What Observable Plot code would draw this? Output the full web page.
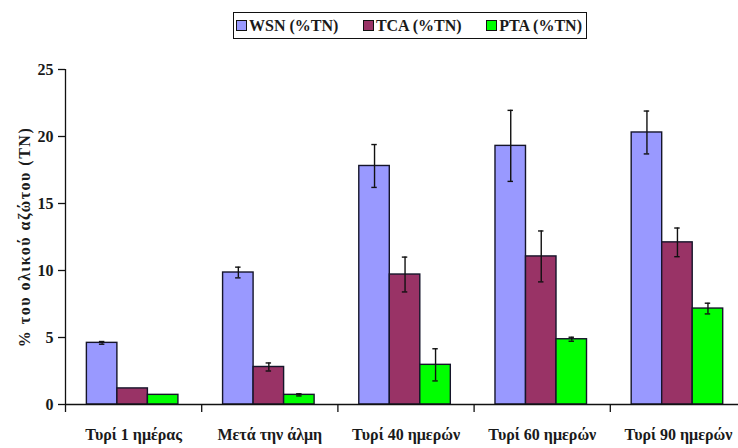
<!DOCTYPE html>
<html>
<head>
<meta charset="utf-8">
<script src="https://cdn.jsdelivr.net/npm/d3@7"></script>
<script src="https://cdn.jsdelivr.net/npm/@observablehq/plot@0.6"></script>
<style>
  body { margin: 0; background: #fff; font-family: "Liberation Serif", "Times New Roman", serif; }
  #legend-row { position: relative; width: 738px; height: 48px; }
  .legend {
    position: absolute; left: 233px; top: 12px; width: 354px; height: 27px;
    box-sizing: border-box; border: 1.5px solid #111;
    display: flex; align-items: center; justify-content: space-between;
    padding: 0 4px 0 2px; font-weight: bold; font-size: 16px; color: #1a1a1a;
  }
  .item { display: flex; align-items: center; white-space: nowrap; }
  .sw { display: inline-block; width: 9px; height: 9px; border: 1.3px solid #111; margin-right: 2px; }
</style>
</head>
<body>
<div id="legend-row"><div class="legend" id="legend"></div></div>
<div id="chart"></div>
<script>
// Sampling stages (x categories)
const categories = ["Τυρί 1 ημέρας", "Μετά την άλμη", "Τυρί 40 ημερών", "Τυρί 60 ημερών", "Τυρί 90 ημερών"];
// Nitrogen fractions shown per stage
const series = ["WSN (%TN)", "TCA (%TN)", "PTA (%TN)"];
const colors = ["#9999ff", "#993366", "#00ff00"];

// Mean values (% of total nitrogen)
const wsn = [4.6, 9.85, 17.8, 19.3, 20.3];
const tca = [1.2, 2.8, 9.7, 11.05, 12.1];
const pta = [0.72, 0.72, 2.96, 4.87, 7.16];

// Standard deviations
const wsnErr = [0.1, 0.4, 1.6, 2.65, 1.6];
const tcaErr = [0.0, 0.3, 1.3, 1.9, 1.07];
const ptaErr = [0.0, 0.08, 1.2, 0.15, 0.4];

const yTicks = [0, 5, 10, 15, 20, 25];
const yLabel = "% του ολικού αζώτου (TN)";

const values = [wsn, tca, pta];
const errors = [wsnErr, tcaErr, ptaErr];

// Layout of a bar cluster inside one category slot (fractions of a slot)
const groupStart = 0.157;
const barW = 0.224;
const capHalf = 0.02;

const rows = categories.flatMap((cat, i) =>
  series.map((s, k) => ({
    cat, i, k, series: s,
    value: values[k][i],
    err: errors[k][i],
    x1: i + groupStart + k * barW,
    x2: i + groupStart + (k + 1) * barW
  }))
);
const mid = d => (d.x1 + d.x2) / 2;
const withErr = rows.filter(d => d.err > 0);

// Legend
const legend = d3.select("#legend");
series.forEach((s, k) => {
  const it = legend.append("span").attr("class", "item");
  it.append("span").attr("class", "sw").style("background", colors[k]);
  it.append("span").text(s);
});

const chart = Plot.plot({
  width: 738,
  height: 400,
  marginLeft: 65,
  marginRight: -8,
  marginTop: 21,
  marginBottom: 44,
  style: "font-family: 'Liberation Serif', 'Times New Roman', serif; font-size: 16px; font-weight: bold; color: #1a1a1a; background: #fff;",
  x: { domain: [0, categories.length], axis: null },
  y: { domain: [0, 25], axis: null },
  color: { domain: series, range: colors },
  marks: [
    Plot.rectY(rows, { x1: "x1", x2: "x2", y: "value", fill: "series", stroke: "#15152a", strokeWidth: 1.4 }),
    Plot.ruleX(withErr, { x: mid, y1: d => d.value - d.err, y2: d => d.value + d.err, stroke: "#111", strokeWidth: 1.4 }),
    Plot.ruleY(withErr, { y: d => d.value - d.err, x1: d => mid(d) - capHalf, x2: d => mid(d) + capHalf, stroke: "#111", strokeWidth: 1.4 }),
    Plot.ruleY(withErr, { y: d => d.value + d.err, x1: d => mid(d) - capHalf, x2: d => mid(d) + capHalf, stroke: "#111", strokeWidth: 1.4 }),
    Plot.ruleX([0], { stroke: "#111", strokeWidth: 1.3 }),
    Plot.ruleY([0], { stroke: "#111", strokeWidth: 1.3 }),
    Plot.axisY({
      ticks: yTicks, tickSize: 7, tickPadding: 5, tickFormat: d => d,
      stroke: "#111", strokeWidth: 1.3,
      label: yLabel, labelAnchor: "center", labelArrow: "none", labelOffset: 47
    }),
    Plot.axisX({
      ticks: d3.range(categories.length + 1), tickSize: 8, tickFormat: () => "",
      stroke: "#111", strokeWidth: 1.3, label: null
    }),
    Plot.axisX({
      ticks: categories.map((c, i) => i + 0.5), tickSize: 0, tickPadding: 24,
      tickFormat: v => categories[Math.floor(v)], label: null
    })
  ]
});

// The axis title is set a little wider than the tick labels
d3.select(chart).selectAll("text")
  .filter(function () { return this.textContent === yLabel; })
  .style("letter-spacing", "1.5px");

document.getElementById("chart").appendChild(chart);
</script>
</body>
</html>
